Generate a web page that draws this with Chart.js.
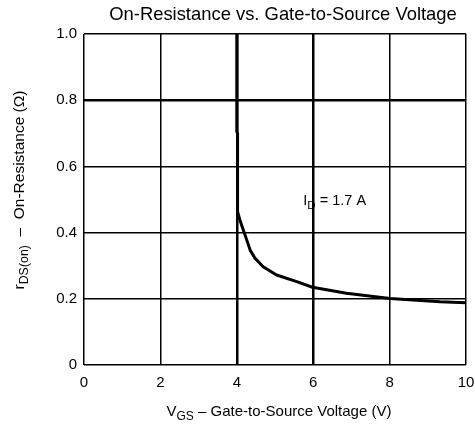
<!DOCTYPE html>
<html>
<head>
<meta charset="utf-8">
<script src="https://cdn.jsdelivr.net/npm/chart.js@4/dist/chart.umd.min.js"></script>
<style>
  html, body { margin: 0; padding: 0; background: #fff; }
  #wrap { width: 475px; height: 428px; }
</style>
</head>
<body>
<div id="wrap"><canvas id="chart" width="475" height="428"></canvas></div>
<script>
// curve
const vgs = [4.0, 4.0, 4.02, 4.02, 4.08, 4.17, 4.26, 4.35, 4.48, 4.69, 5.04, 5.57, 5.98, 6.87, 8.01, 9.32, 10.0];
const rds = [1.0, 0.705, 0.70, 0.463, 0.438, 0.408, 0.378, 0.347, 0.322, 0.297, 0.272, 0.252, 0.235, 0.217, 0.201, 0.191, 0.188];

const xTicks = [0, 2, 4, 6, 8, 10];
const yTicks = [0, 0.2, 0.4, 0.6, 0.8, 1.0];
const yTickLabels = ["0", "0.2", "0.4", "0.6", "0.8", "1.0"];

const titleText = "On-Resistance vs. Gate-to-Source Voltage";
const FONT = "'Liberation Sans', Arial, sans-serif";

// draws text parts with subscripts, starting at x (left aligned)
function drawParts(ctx, parts, x, y, size) {
  parts.forEach(function (p) {
    if (p.sub) {
      ctx.font = (size * 0.8) + "px " + FONT;
      ctx.fillText(p.t, x, y + size * 0.3);
    } else {
      ctx.font = size + "px " + FONT;
      ctx.fillText(p.t, x, y);
    }
    x += ctx.measureText(p.t).width;
  });
}
function partsWidth(ctx, parts, size) {
  let w = 0;
  parts.forEach(function (p) {
    ctx.font = (p.sub ? size * 0.8 : size) + "px " + FONT;
    w += ctx.measureText(p.t).width;
  });
  return w;
}

const labels = {
  id: "labels",
  afterDraw(chart) {
    const ctx = chart.ctx;
    const x = chart.scales.x, y = chart.scales.y;
    ctx.save();
    ctx.fillStyle = "#000";
    ctx.textBaseline = "middle";

    // title
    ctx.font = "18.4px " + FONT;
    ctx.textAlign = "center";
    ctx.fillText(titleText, 283, 15);
    ctx.textAlign = "left";

    // x axis title
    const xt = [{ t: "V" }, { t: "GS", sub: true }, { t: " \u2013 Gate-to-Source Voltage (V)" }];
    const xw = partsWidth(ctx, xt, 15);
    drawParts(ctx, xt, 279 - xw / 2, 412, 15);

    // y axis title (rotated)
    const yt = [{ t: "r" }, { t: "DS(on)", sub: true }, { t: "  \u2013  On-Resistance (\u03a9)" }];
    ctx.save();
    ctx.translate(20, 190);
    ctx.rotate(-Math.PI / 2);
    const yw = partsWidth(ctx, yt, 15.5);
    drawParts(ctx, yt, -yw / 2, 0, 15.5);
    ctx.restore();

    // current annotation
    const at = [{ t: "I" }, { t: "D", sub: true }, { t: " = 1.7 A" }];
    drawParts(ctx, at, x.getPixelForValue(5.74), y.getPixelForValue(0.495), 14.5);

    ctx.restore();
  }
};

new Chart(document.getElementById("chart"), {
  type: "scatter",
  data: {
    datasets: [
      {
        data: vgs.map(function (v, i) { return { x: v, y: rds[i] }; }),
        showLine: true,
        borderColor: "#000",
        borderWidth: 3,
        borderJoinStyle: "round",
        pointRadius: 0,
        tension: 0,
      },
    ],
  },
  plugins: [labels],
  options: {
    responsive: false,
    animation: false,
    events: [],
    layout: { padding: { top: 34, right: 9, left: 0, bottom: 0 } },
    plugins: {
      legend: { display: false },
      tooltip: { enabled: false },
    },
    scales: {
      x: {
        type: "linear",
        min: 0,
        max: 10,
        afterBuildTicks(s) { s.ticks = xTicks.map(function (v) { return { value: v }; }); },
        afterFit(s) { s.height = 63; s.paddingLeft = 0; s.paddingRight = 0; },
        ticks: { color: "#000", font: { family: FONT, size: 15 }, padding: 9 },
        grid: {
          drawTicks: false,
          color: "#000",
          lineWidth: function (c) { return (c.tick && (c.tick.value === 4 || c.tick.value === 6)) ? 2.5 : 1.5; },
        },
        border: { display: false },
      },
      y: {
        type: "linear",
        min: 0,
        max: 1,
        afterBuildTicks(s) { s.ticks = yTicks.map(function (v) { return { value: v }; }); },
        afterFit(s) { s.width = 84; s.paddingTop = 0; s.paddingBottom = 0; },
        ticks: {
          color: "#000",
          font: { family: FONT, size: 15 },
          padding: 7,
          callback: function (v) { return yTickLabels[yTicks.indexOf(v)]; },
        },
        grid: {
          drawTicks: false,
          color: "#000",
          lineWidth: function (c) { return (c.tick && c.tick.value === 0.8) ? 2.5 : 1.5; },
        },
        border: { display: false },
      },
    },
  },
});
</script>
</body>
</html>
